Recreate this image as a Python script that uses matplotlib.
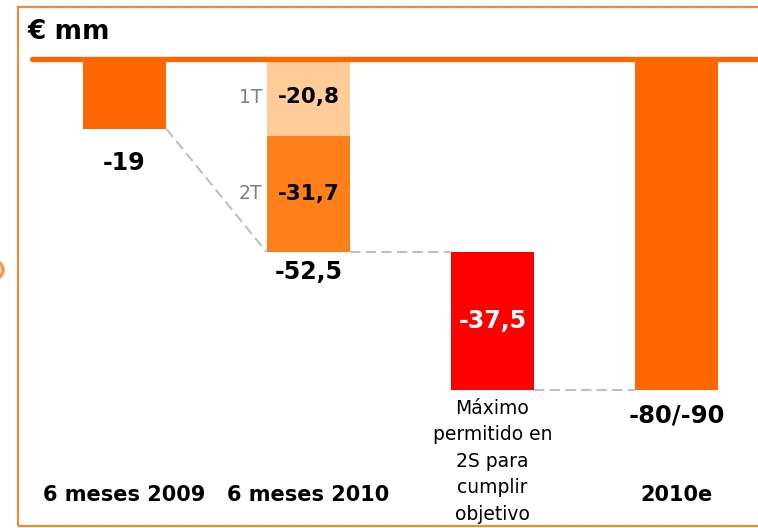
import matplotlib.pyplot as plt
from matplotlib.patches import Rectangle, Circle

# Datos (€ mm)
categorias = ["6 meses 2009", "6 meses 2010",
              "Máximo\npermitido en\n2S para\ncumplir\nobjetivo", "2010e"]
deficit_2009 = -19
trim_2010 = [-20.8, -31.7]          # 1T, 2T
trim_labels = ["1T", "2T"]
total_2010 = -52.5
max_2s = -37.5
objetivo = -90
objetivo_label = "-80/-90"

naranja = "#FF6600"
naranja_2t = "#FF7F1A"
melocoton = "#FFCC99"
rojo = "#FF0000"
gris = "#C0C0C0"

W, H = 758, 528
fig = plt.figure(figsize=(W / 100, H / 100), dpi=100)
ax = fig.add_axes([0, 0, 1, 1])
ax.set_axis_off()

# escala: 184 px por categoria, 3.68 px por unidad
px_x, px_y = 184.0, 3.68
x0, y0 = 124.5, 59.0
ax.set_xlim(-x0 / px_x, (W - x0) / px_x)
ax.set_ylim(-(H - y0) / px_y, y0 / px_y)

bw = 0.455
ax.bar(0, deficit_2009, width=bw, color=naranja, zorder=2)
ax.bar(1, trim_2010[0], width=bw, color=melocoton, zorder=2)
ax.bar(1, trim_2010[1], bottom=trim_2010[0], width=bw, color=naranja_2t, zorder=2)
ax.bar(2, max_2s, bottom=total_2010, width=bw, color=rojo, zorder=2)
ax.bar(3, objetivo, width=bw, color=naranja, zorder=2)

# linea base
ax.plot([(32 - x0) / px_x, (W - x0) / px_x], [0, 0], color=naranja, lw=3.8,
        solid_capstyle="round", zorder=3)

# conectores discontinuos
dash = dict(color=gris, lw=1.5, dashes=(5, 2.5), zorder=1)
ax.plot([bw / 2, 1 - bw / 2], [deficit_2009, total_2010], **dash)
ax.plot([1 + bw / 2, 2 - bw / 2], [total_2010, total_2010], **dash)
ax.plot([2 + bw / 2, 3 - bw / 2], [total_2010 + max_2s, total_2010 + max_2s], **dash)

fmt = lambda v: f"{v:.1f}".replace(".", ",")

# valores
ax.text(0, -28.3, f"{deficit_2009}", ha="center", va="center",
        fontsize=17, fontweight="bold")
ax.text(1, -57.9, fmt(total_2010), ha="center", va="center",
        fontsize=17, fontweight="bold")
ax.text(3, -97.0, objetivo_label, ha="center", va="center",
        fontsize=17.5, fontweight="bold")
ax.text(2, total_2010 + max_2s / 2, fmt(max_2s), ha="center", va="center",
        fontsize=17, fontweight="bold", color="white", zorder=4)

bottom = 0
for v, lab in zip(trim_2010, trim_labels):
    yc = bottom + v / 2
    ax.text(1, yc, fmt(v), ha="center", va="center",
            fontsize=15.5, fontweight="bold", zorder=4)
    ax.text(1 - bw / 2 - 0.025, yc, lab, ha="right", va="center",
            fontsize=13.5, color="#808080", zorder=4)
    bottom += v

# categorias
for i, c in enumerate(categorias):
    if "\n" in c:
        ax.text(i, -92.3, c, ha="center", va="top", fontsize=13.5,
                linespacing=1.5)
    else:
        ax.text(i, -118.5, c, ha="center", va="center", fontsize=15,
                fontweight="bold")

fig.text(28 / W, 1 - 32 / H, "€ mm", ha="left", va="center",
         fontsize=19, fontweight="bold")

# marco y adorno
fig.patches.append(Rectangle((18 / W, 1 - 526 / H), 1.0, (526 - 7) / H,
                             transform=fig.transFigure, fill=False,
                             edgecolor="#F7882F", lw=1.5))
fig.patches.append(Circle((-14 / W, 1 - 270 / H), 17 / W,
                          transform=fig.transFigure, fill=False,
                          edgecolor=naranja, lw=2.5, alpha=0.7))

fig.savefig("out.png", dpi=100)
